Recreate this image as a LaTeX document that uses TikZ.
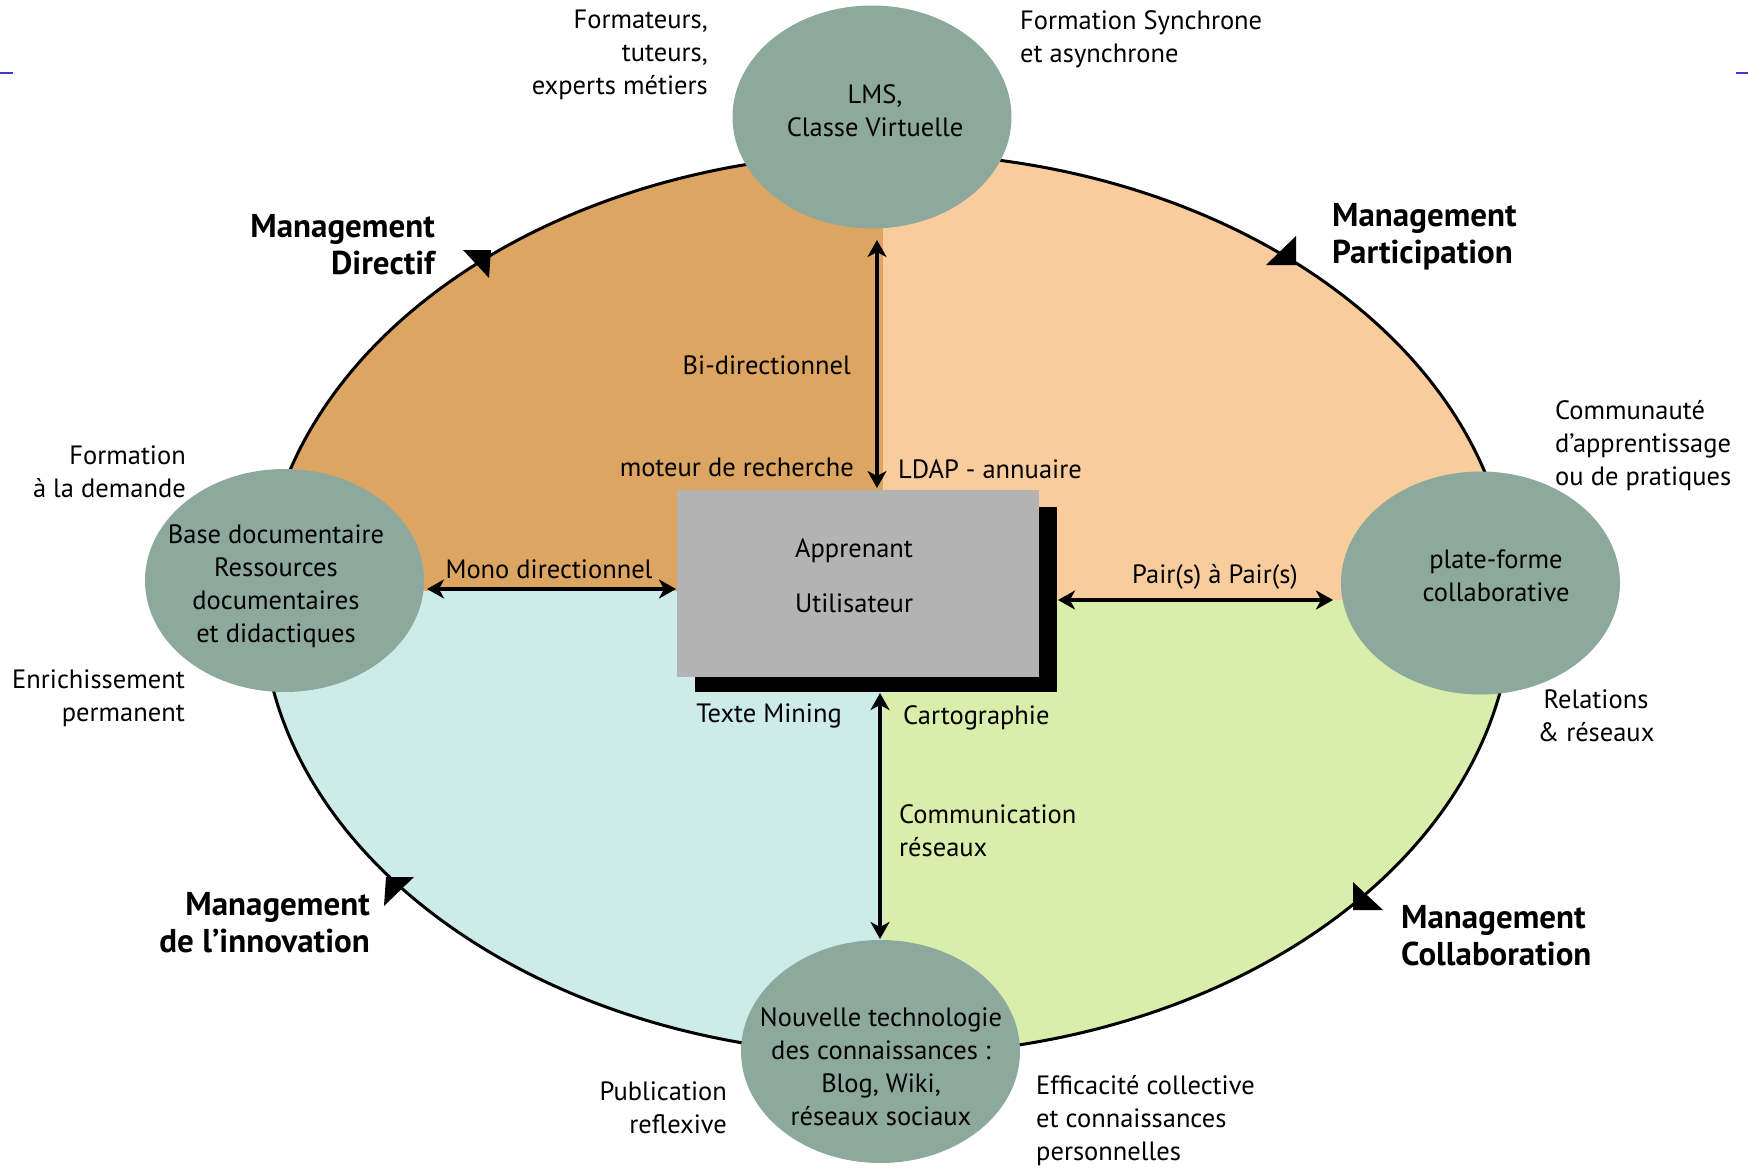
\documentclass[tikz,border=0pt]{standalone}
\usepackage{fontspec}
\setmainfont{PT Sans}
\usetikzlibrary{arrows.meta,shapes.geometric}
\definecolor{qorange}{HTML}{DCA562}
\definecolor{qpeach}{HTML}{F8CC9C}
\definecolor{qcyan}{HTML}{CCEBE9}
\definecolor{qgreen}{HTML}{D8EEAA}
\definecolor{disc}{HTML}{8DA99D}
\definecolor{boxgray}{HTML}{B3B3B3}
\definecolor{lineblue}{HTML}{3A3ACC}
\tikzset{
  x=1pt,y=-1pt,
  lbl/.style={inner sep=0pt,font=\fontsize{26.5}{33}\selectfont},
  mgmt/.style={inner sep=0pt,font=\fontsize{33}{37}\selectfont\bfseries},
  disk/.style={ellipse,fill=disc,draw=none,minimum width=279pt,minimum height=223pt,inner sep=0pt},
  arr/.style={line width=3.5pt,{Stealth[length=17pt,width=19pt,inset=5pt]}-{Stealth[length=17pt,width=19pt,inset=5pt]}},
  tri/.style={fill=black}
}
\begin{document}
\begin{tikzpicture}
\useasboundingbox (0,0) rectangle (1748,1169);
\fill[white] (0,0) rectangle (1748,1169);
% quadrants
\begin{scope}
\clip (887,604) ellipse [x radius=625, y radius=451];
\fill[qorange] (0,0) rectangle (883,591);
\fill[qpeach] (883,0) rectangle (1748,600);
\fill[qcyan] (0,591) rectangle (883,1169);
\fill[qgreen] (883,600) rectangle (1748,1169);
\end{scope}
\draw[line width=3pt] (887,604) ellipse [x radius=625, y radius=451];
% direction triangles
\fill[tri] (463,250) -- (491,250) -- (489,278) -- cycle;
\fill[tri] (1266,265) -- (1296,265) -- (1296,236) -- cycle;
\fill[tri] (386,877) -- (414,877) -- (384,906) -- cycle;
\fill[tri] (1353,882) -- (1353,910) -- (1383,910) -- cycle;
% blue marks
\draw[lineblue,line width=1.5pt] (0,73) -- (13,73);
\draw[lineblue,line width=1.5pt] (1736,73) -- (1748,73);
% circles
\node[disk] (lms) at (872,117) {};
\node[disk] (base) at (284.5,580.5) {};
\node[disk] (plate) at (1480.5,583) {};
\node[disk] (nouv) at (880.5,1051.5) {};
\node[lbl,align=center] (lmst) at (875,111) {LMS,\\Classe Virtuelle};
\node[lbl,align=center] (baset) at (276,586) {Base documentaire\\Ressources\\documentaires\\et didactiques};
\node[lbl,align=center] (platet) at (1496,576) {plate-forme\\collaborative};
\node[lbl,align=center] (nouvt) at (881,1067) {Nouvelle technologie\\des connaissances :\\Blog, Wiki,\\réseaux sociaux};
% central box
\fill[black] (695,507) rectangle (1057,692);
\node[fill=boxgray,minimum width=362pt,minimum height=187pt,inner sep=0pt] (user) at (857.5,583.5) {};
\node[lbl] (appr) at (854,551) {Apprenant};
\node[lbl] (util) at (854,603) {Utilisateur};
% connectors
\coordinate (ta) at (877,240);
\coordinate (tb) at (877,488);
\coordinate (ba) at (880,693);
\coordinate (bb) at (880,939);
\coordinate (la) at (427,589);
\coordinate (lb) at (676,589);
\coordinate (ra) at (1058,600);
\coordinate (rb) at (1333,600);
\draw[arr] (ta) -- (tb);
\draw[arr] (ba) -- (bb);
\draw[arr] (la) -- (lb);
\draw[arr] (ra) -- (rb);
% labels
\node[lbl,anchor=east,align=right] (form) at (708,55) {Formateurs,\\tuteurs,\\experts métiers};
\node[lbl,anchor=west,align=left] (sync) at (1020,39) {Formation Synchrone\\et asynchrone};
\node[mgmt,anchor=east,align=right] (mdir) at (435,245) {Management\\Directif};
\node[mgmt,anchor=west,align=left] (mpar) at (1332,237) {Management\\Participation};
\node[lbl,anchor=east] (bidir) at (851,365) {Bi-directionnel};
\node[lbl,anchor=east] (moteur) at (854,467) {moteur de recherche};
\node[lbl,anchor=west] (ldap) at (898,469) {LDAP - annuaire};
\node[lbl,anchor=east,align=right] (fdem) at (186,472) {Formation\\à la demande};
\node[lbl] (mono) at (549,569) {Mono directionnel};
\node[lbl] (pair) at (1215,577) {Pair(s) à Pair(s)};
\node[lbl,anchor=west,align=left] (comm) at (1555,446) {Communauté\\d’apprentissage\\ou de pratiques};
\node[lbl,anchor=east,align=right] (enri) at (185,698) {Enrichissement\\permanent};
\node[lbl,anchor=east] (texte) at (842,716) {Texte Mining};
\node[lbl,anchor=west] (carto) at (903,718) {Cartographie};
\node[lbl,align=center] (rel) at (1596,716) {Relations\\\& réseaux};
\node[lbl,anchor=west,align=left] (commu) at (899,831) {Communication\\réseaux};
\node[mgmt,anchor=east,align=right] (minn) at (370,923) {Management\\de l’innovation};
\node[mgmt,anchor=west,align=left] (mcol) at (1401,936) {Management\\Collaboration};
\node[lbl,anchor=east,align=right] (pub) at (727,1108) {Publication\\reflexive};
\node[lbl,anchor=west,align=left] (eff) at (1036,1121) {Efficacité collective\\et connaissances\\personnelles};
\end{tikzpicture}
\end{document}
